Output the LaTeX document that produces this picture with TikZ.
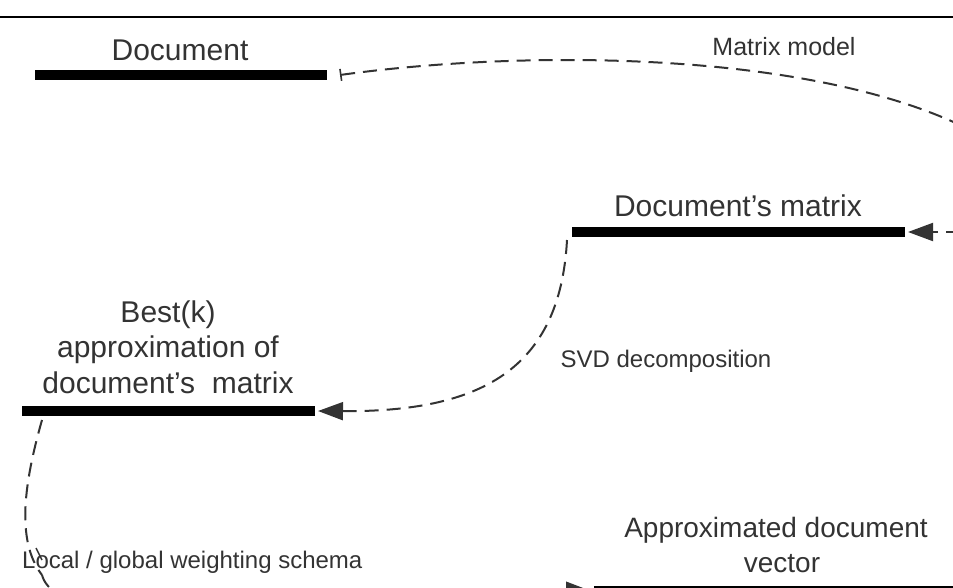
\documentclass[tikz,border=0pt]{standalone}
\usepackage{fontspec}
\setmainfont{Liberation Sans}
\usetikzlibrary{arrows.meta}
\tikzset{
  bigtxt/.style={font=\fontsize{30}{36}\selectfont, text=black!80, inner sep=0pt, anchor=base},
  smalltxt/.style={font=\fontsize{24}{29}\selectfont, text=black!80, inner sep=0pt, anchor=base},
  bar/.style={line width=9.5pt, black},
  conn/.style={line width=2pt, black!80, dash pattern=on 14pt off 8pt},
  tip/.style={-{Triangle[length=25pt,width=18pt]}},
  starttick/.style={{Bar[width=12pt,line width=1.6pt]}-},
}
\begin{document}
\begin{tikzpicture}[x=1pt,y=-1pt]
\useasboundingbox (0,0) rectangle (953,587);
\clip (0,0) rectangle (953,587);
% top rule
\draw[line width=1.4pt] (0,17) -- (953,17);

% bars (named end points)
\coordinate (docL) at (35,75);   \coordinate (docR) at (327,75);
\coordinate (matL) at (572,232); \coordinate (matR) at (905,232);
\coordinate (bestL) at (22,411); \coordinate (bestR) at (315,411);
\coordinate (vecL) at (594,591); \coordinate (vecR) at (960,591);
\draw[bar] (docL) -- (docR);
\draw[bar] (matL) -- (matR);
\draw[bar] (bestL) -- (bestR);
\draw[bar] (vecL) -- (vecR);

% labels
\node[bigtxt] (docT) at (180,60) {Document};
\node[bigtxt] (matT) at (738,216) {Document's matrix};
\node[bigtxt] (bestT1) at (168,322) {Best(k)};
\node[bigtxt] (bestT2) at (168,357) {approximation of};
\node[bigtxt] (bestT3) at (168,393) {document's\ \ matrix};
\node[bigtxt, font=\fontsize{28}{34}\selectfont] (vecT1) at (776,537) {Approximated document};
\node[bigtxt, font=\fontsize{28}{34}\selectfont] (vecT2) at (782,572) {vector};
\node[smalltxt, font=\fontsize{25}{30}\selectfont] (mmT) at (784,55) {Matrix model};
\node[smalltxt] (svdT) at (666,367) {SVD decomposition};
\node[smalltxt, anchor=base west] (lgT) at (22,568) {Local / global weighting schema};

% connector points
\coordinate (s1) at (340,75);
\coordinate (e1) at (908,232);
\coordinate (s2) at (567,240);
\coordinate (e2) at (318,411);
\coordinate (s3) at (42,420);
\coordinate (e3) at (591,591);

% connectors
\draw[conn, starttick] (s1) .. controls (520,50) and (800,50) .. (960,125)
  .. controls (1000,160) and (1000,232) .. (950,232);
\draw[conn, tip] (960,232) -- (e1);
\draw[conn, starttick, tip] (s2) .. controls (560,370) and (480,412) .. (e2);
\draw[conn] (s3) .. controls (25,480) and (15,540) .. (42,575);
\draw[conn, tip] (42,575) .. controls (60,640) and (300,588) .. (e3);
\draw[line width=1.4pt, black!80] (36,548) -- (42,560);
\end{tikzpicture}
\end{document}
